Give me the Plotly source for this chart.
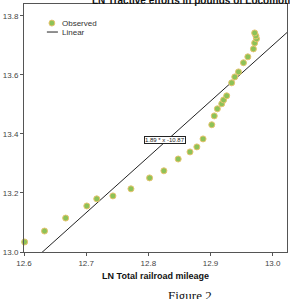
import plotly.graph_objects as go

# Observed data (LN Total railroad mileage, LN Tractive efforts)
mileage = [12.601, 12.633, 12.667, 12.701, 12.717, 12.743, 12.772, 12.802, 12.825,
           12.848, 12.867, 12.878, 12.888, 12.902, 12.906, 12.911, 12.918, 12.921,
           12.926, 12.934, 12.939, 12.945, 12.953, 12.960, 12.969, 12.971, 12.974,
           12.973, 12.971]
tractive = [13.034, 13.071, 13.115, 13.156, 13.180, 13.190, 13.214, 13.251, 13.275,
            13.315, 13.339, 13.356, 13.383, 13.431, 13.461, 13.485, 13.502, 13.515,
            13.529, 13.573, 13.593, 13.610, 13.641, 13.661, 13.688, 13.708, 13.722,
            13.732, 13.742]

slope = 1.89
intercept = -10.87
fit_x = [12.55, 13.05]
fit_y = [slope * v + intercept for v in fit_x]

x_ticks = [12.6, 12.7, 12.8, 12.9, 13.0]
y_ticks = [13.0, 13.2, 13.4, 13.6, 13.8]

fig = go.Figure()
fig.add_trace(go.Scatter(x=fit_x, y=fit_y, mode="lines",
                         line=dict(color="#222222", width=1), showlegend=False))
fig.add_trace(go.Scatter(x=mileage, y=tractive, mode="markers",
                         marker=dict(size=6, color="#8dc257",
                                     line=dict(color="#e6c46e", width=1)),
                         showlegend=False, cliponaxis=False))

fig.update_layout(
    width=290, height=299,
    margin=dict(l=24, r=3, t=4, b=47),
    paper_bgcolor="white", plot_bgcolor="white",
    font=dict(family="Liberation Sans, Arial", color="#333333"),
    xaxis=dict(range=[12.6, 13.023], tickvals=x_ticks, tickformat=".1f",
               showgrid=False, zeroline=False, showline=True, mirror=True,
               linecolor="#555555", linewidth=1, ticks="outside", ticklen=3,
               tickcolor="#555555", tickfont=dict(size=8, color="#444444"),
               title=dict(text="<b>LN Total railroad mileage</b>",
                          font=dict(size=9, color="#111111"), standoff=6)),
    yaxis=dict(range=[13.0, 13.84], tickvals=y_ticks, tickformat=".1f",
               showgrid=False, zeroline=False, showline=True, mirror=True,
               linecolor="#555555", linewidth=1, ticks="outside", ticklen=3,
               tickcolor="#555555", tickfont=dict(size=8, color="#444444")),
    showlegend=False,
)

# Manual legend
fig.add_shape(type="circle", xref="paper", yref="paper",
              x0=0.095, x1=0.117, y0=0.911, y1=0.935,
              fillcolor="#8dc257", line=dict(color="#e6c46e", width=1))
fig.add_shape(type="line", xref="paper", yref="paper",
              x0=0.087, x1=0.129, y0=0.887, y1=0.887,
              line=dict(color="#222222", width=1))
fig.add_annotation(text="Observed", xref="paper", yref="paper", x=0.137, y=0.923,
                   xanchor="left", yanchor="middle", showarrow=False,
                   font=dict(size=8, color="#333333"))
fig.add_annotation(text="Linear", xref="paper", yref="paper", x=0.137, y=0.887,
                   xanchor="left", yanchor="middle", showarrow=False,
                   font=dict(size=8, color="#333333"))

# Fit label
fig.add_annotation(text="1.89 * x -10.87", x=12.826, y=13.381, xref="x", yref="y",
                   showarrow=False, font=dict(size=6, color="#222222"),
                   bgcolor="white", bordercolor="#222222", borderwidth=1, borderpad=0)

# Title (cut off at top)
fig.add_annotation(text="<b>LN Tractive efforts in pounds of Locomotives</b>",
                   xref="paper", yref="paper", x=(90 - 24) / 263, y=1.0 + 4 / 248,
                   xanchor="left", yanchor="middle", showarrow=False,
                   font=dict(size=10, color="#111111"))

# Caption
fig.add_annotation(text="Figure 2", xref="paper", yref="paper",
                   x=(190 - 24) / 263, y=-(295 - 252) / 248,
                   xanchor="center", yanchor="middle", showarrow=False,
                   font=dict(size=13, family="Liberation Serif, Times New Roman",
                             color="#111111"))

fig.write_html("out.html")
